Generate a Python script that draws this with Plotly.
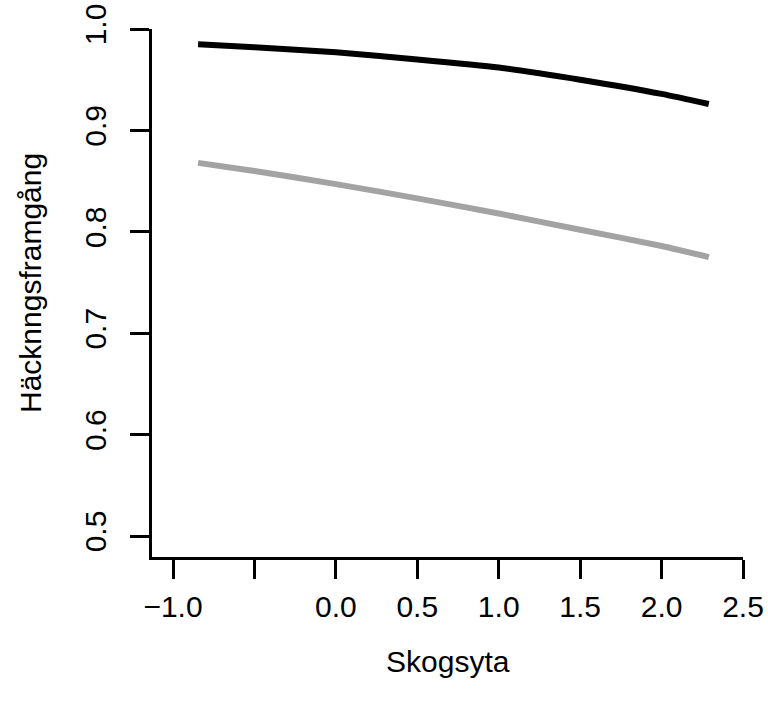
import plotly.graph_objects as go

# Predicted breeding success along the forest-area gradient
skogsyta = [-0.846, -0.5, 0.0, 0.5, 1.0, 1.5, 2.0, 2.29]
grupp_svart = [0.985, 0.982, 0.977, 0.970, 0.962, 0.950, 0.936, 0.926]
grupp_gra = [0.868, 0.860, 0.847, 0.833, 0.818, 0.802, 0.786, 0.775]

x_ticks = [-1.0, -0.5, 0.0, 0.5, 1.0, 1.5, 2.0, 2.5]
x_ticktext = ["\u22121.0", "", "0.0", "0.5", "1.0", "1.5", "2.0", "2.5"]
y_ticks = [0.5, 0.6, 0.7, 0.8, 0.9, 1.0]
y_ticktext = ["0.5", "0.6", "0.7", "0.8", "0.9", "1.0"]

FONT = "Liberation Sans, Arial, sans-serif"
SIZE = 30

fig = go.Figure()
fig.add_trace(go.Scatter(x=skogsyta, y=grupp_gra, mode="lines",
                         line=dict(color="#a3a3a3", width=6, shape="spline", smoothing=0.6),
                         showlegend=False))
fig.add_trace(go.Scatter(x=skogsyta, y=grupp_svart, mode="lines",
                         line=dict(color="#000000", width=6, shape="spline", smoothing=0.6),
                         showlegend=False))

fig.update_layout(
    width=768, height=704,
    margin=dict(l=152, r=25, t=29, b=147, autoexpand=False),
    paper_bgcolor="white", plot_bgcolor="white",
    font=dict(family=FONT, size=SIZE, color="black"),
    xaxis=dict(range=[-1.129, 2.5], tickvals=x_ticks, ticktext=x_ticktext,
               showline=True, linecolor="black", linewidth=2.5,
               ticks="outside", ticklen=19, tickwidth=2.5, tickcolor="black",
               showgrid=False, zeroline=False, tickfont=dict(size=SIZE),
               ticklabelstandoff=2, automargin=False),
    yaxis=dict(range=[0.4793, 1.0], tickvals=y_ticks, ticktext=y_ticktext,
               showline=True, linecolor="black", linewidth=2.5,
               ticks="outside", ticklen=19, tickwidth=2.5, tickcolor="black",
               tickangle=-90, showgrid=False, zeroline=False, tickfont=dict(size=SIZE),
               ticklabelstandoff=12, automargin=False),
    annotations=[
        dict(text="Skogsyta", xref="paper", yref="paper", x=0.5, y=(704 - 662 - 147) / 528,
             showarrow=False, font=dict(size=SIZE), xanchor="center", yanchor="middle"),
        dict(text="Häcknngsframgång", xref="paper", yref="paper", x=(30 - 152) / 591,
             y=(557 - 283) / 528, textangle=-90, showarrow=False, font=dict(size=SIZE),
             xanchor="center", yanchor="middle"),
    ],
)

fig.write_html("out.html")
